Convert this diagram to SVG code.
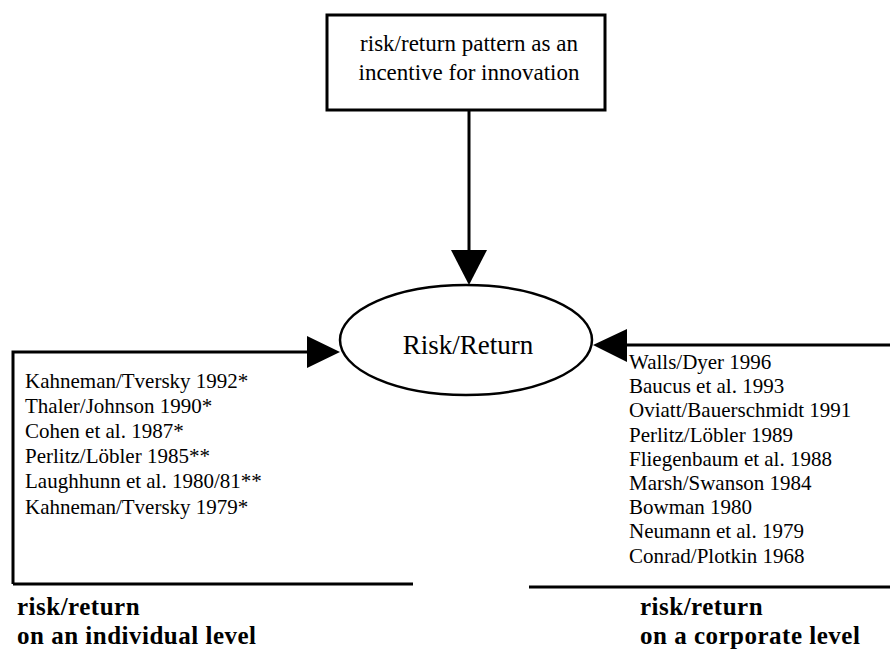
<svg xmlns="http://www.w3.org/2000/svg" width="890" height="650" viewBox="0 0 890 650">
<style>
text{font-family:"Liberation Serif","Times New Roman",serif;fill:#000}
.box{fill:#fff;stroke:#000;stroke-width:3}
.ln{fill:none;stroke:#000;stroke-width:3}
.head{fill:#000}
.ref{font-size:21px}
.lbl{font-size:25px;font-weight:bold;letter-spacing:0.5px}
</style>
<g id="connectors">
<line class="ln" x1="469" y1="110" x2="469" y2="252"/>
<polygon class="head" points="451,250 487,250 469,285"/>
<polyline class="ln" points="13,584 413,584"/>
<polyline class="ln" points="13,584 13,352 310,352"/>
<polygon class="head" points="307,336 307,368 340,352"/>
<line class="ln" x1="890" y1="345" x2="624" y2="345"/>
<polygon class="head" points="627,329 627,362 593,345"/>
<line class="ln" x1="529" y1="587" x2="890" y2="587"/>
</g>
<g id="top">
<rect class="box" x="327" y="15" width="278" height="95"/>
<text x="469" y="51" text-anchor="middle" font-size="23">risk/return pattern as an</text>
<text x="469" y="80" text-anchor="middle" font-size="23">incentive for innovation</text>
</g>
<g id="center">
<ellipse cx="466" cy="340" rx="126" ry="55" fill="#fff" stroke="#000" stroke-width="2.5"/>
<text x="468" y="354" text-anchor="middle" font-size="27">Risk/Return</text>
</g>
<g id="individual" class="ref">
<text x="25" y="388">Kahneman/Tversky 1992*</text>
<text x="25" y="413">Thaler/Johnson 1990*</text>
<text x="25" y="438">Cohen et al. 1987*</text>
<text x="25" y="463">Perlitz/Löbler 1985**</text>
<text x="25" y="488">Laughhunn et al. 1980/81**</text>
<text x="25" y="514">Kahneman/Tversky 1979*</text>
</g>
<g id="corporate" class="ref">
<text x="629" y="369">Walls/Dyer 1996</text>
<text x="629" y="393">Baucus et al. 1993</text>
<text x="629" y="417">Oviatt/Bauerschmidt 1991</text>
<text x="629" y="442">Perlitz/Löbler 1989</text>
<text x="629" y="466">Fliegenbaum et al. 1988</text>
<text x="629" y="490">Marsh/Swanson 1984</text>
<text x="629" y="514">Bowman 1980</text>
<text x="629" y="538">Neumann et al. 1979</text>
<text x="629" y="563">Conrad/Plotkin 1968</text>
</g>
<g id="labels" class="lbl">
<text x="17" y="615">risk/return</text>
<text x="17" y="644">on an individual level</text>
<text x="640" y="615">risk/return</text>
<text x="640" y="644">on a corporate level</text>
</g>
</svg>
